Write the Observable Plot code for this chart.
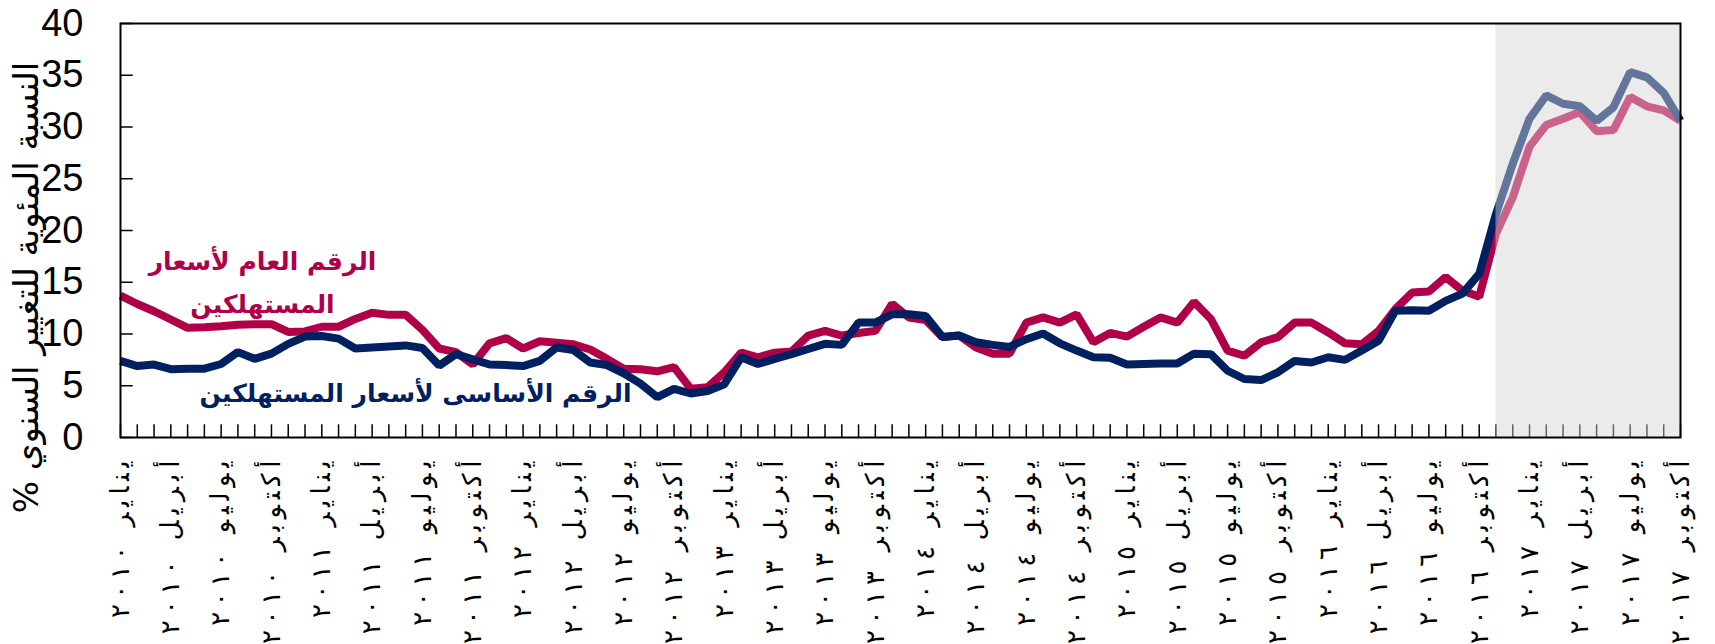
<!DOCTYPE html>
<html><head><meta charset="utf-8">
<script src="https://cdn.jsdelivr.net/npm/d3@7"></script>
<script src="https://cdn.jsdelivr.net/npm/@observablehq/plot@0.6"></script>
<style>
body{margin:0;background:#fff} svg{display:block}
</style>
</head><body><div id="chart"></div>
<script>
// ---- data ----
const monthNames = ["يناير","فبراير","مارس","أبريل","مايو","يونيو","يوليو","أغسطس","سبتمبر","أكتوبر","نوفمبر","ديسمبر"];
const years = ["٢٠١٠","٢٠١١","٢٠١٢","٢٠١٣","٢٠١٤","٢٠١٥","٢٠١٦","٢٠١٧"];
// headline CPI, annual % change (Jan 2010 .. Oct 2017)
const headline = [
  13.7,12.9,12.2,11.4,10.6,10.65,10.75,10.9,10.95,10.95,10.2,10.25,
  10.7,10.7,11.45,12.05,11.85,11.85,10.4,8.6,8.25,7.05,9.1,9.6,
  8.6,9.3,9.15,9.0,8.5,7.6,6.65,6.6,6.4,6.8,4.7,4.85,
  6.3,8.2,7.75,8.2,8.3,9.85,10.3,9.85,10.1,10.3,12.9,11.6,
  11.35,9.7,9.85,8.7,8.1,8.1,11.1,11.6,11.1,11.9,9.2,10.1,
  9.75,10.7,11.6,11.1,13.1,11.45,8.4,7.9,9.2,9.7,11.1,11.1,
  10.15,9.1,9.0,10.3,12.4,14.0,14.1,15.5,14.2,13.6,19.7,23.2,
  28.1,30.2,30.8,31.45,29.6,29.7,32.9,32.0,31.6,30.6
];
// core CPI, annual % change
const core = [
  7.4,6.9,7.05,6.6,6.65,6.65,7.1,8.25,7.6,8.1,9.05,9.75,
  9.8,9.55,8.6,8.7,8.8,8.9,8.65,6.95,8.05,7.55,7.05,7.0,
  6.9,7.4,8.7,8.45,7.25,7.0,6.2,5.2,3.9,4.7,4.25,4.5,
  5.15,7.75,7.1,7.6,8.05,8.55,9.05,8.95,11.1,11.1,11.9,11.9,
  11.75,9.7,9.85,9.2,8.95,8.75,9.5,10.05,9.1,8.4,7.75,7.7,
  7.05,7.1,7.15,7.15,8.1,8.05,6.45,5.65,5.55,6.3,7.4,7.25,
  7.75,7.5,8.4,9.35,12.25,12.3,12.25,13.2,13.9,15.8,21.6,26.45,
  30.8,33.05,32.25,32.0,30.6,31.9,35.3,34.8,33.3,30.6
];
const yTicks = [0,5,10,15,20,25,30,35,40];
const shadedFrom = "نوفمبر ٢٠١٦";
const yLabel = "% النسبة المئوية للتغيير السنوي";
const headlineLabel = "الرقم العام لأسعار\nالمستهلكين";
const coreLabel = "الرقم الأساسى لأسعار المستهلكين";

// ---- derived ----
const months = years.flatMap(y => monthNames.map(m => `${m} ${y}`)).slice(0, headline.length);
const rows = months.map((m, i) => ({i, month: m, headline: headline[i], core: core[i]}));
const last = months.length - 1;
const shade = [{x1: months.indexOf(shadedFrom), x2: last}];
const labelIdx = d3.range(0, months.length, 3);

const W = 1715, H = 644, mL = 120, mR = 35, mT = 23, mB = 207;
const innerW = W - mL - mR, innerH = H - mT - mB, tickLen = 12.7;
const red = "#B00048", navy = "#002060", grey = "#EBEBEB";

const chart = Plot.plot({
  width: W, height: H,
  marginLeft: mL, marginRight: mR, marginTop: mT, marginBottom: mB,
  style: {fontFamily: "'DejaVu Sans', sans-serif", background: "white", color: "#000"},
  x: {type: "linear", domain: [0, last]},
  y: {domain: [0, 40]},
  marks: [
    Plot.rect(shade, {x1: "x1", x2: "x2", fill: grey}),
    Plot.tickY(yTicks, {y: d => d, stroke: "#000", strokeWidth: 1.5, insetRight: innerW - tickLen}),
    Plot.tickX(d3.range(months.length), {x: d => d, stroke: "#000", strokeWidth: 1.5, insetTop: innerH - tickLen}),
    Plot.line(rows, {x: "i", y: "headline", stroke: red, strokeWidth: 8, strokeLinejoin: "miter", strokeLinecap: "butt"}),
    Plot.line(rows, {x: "i", y: "core", stroke: navy, strokeWidth: 8, strokeLinejoin: "miter", strokeLinecap: "butt"}),
    Plot.rect(shade, {x1: "x1", x2: "x2", fill: grey, fillOpacity: 0.42}),
    Plot.frame({stroke: "#000", strokeWidth: 2}),
    Plot.axisY({ticks: yTicks, tickSize: 0, tickPadding: 37, fontSize: 38, fontFamily: "'Liberation Sans', Arial, sans-serif", label: null}),
    Plot.axisX({ticks: labelIdx, tickFormat: i => months[i], tickRotate: -90, tickSize: 0, tickPadding: 23, fontSize: 26, textAnchor: "end", label: null}),
    Plot.text([yLabel], {frameAnchor: "left", dx: -93, dy: 57, rotate: -90, fontSize: 34, textAnchor: "middle"}),
    Plot.text([headlineLabel], {frameAnchor: "top-left", dx: 142, dy: 215, fill: red, fontWeight: "bold", fontSize: 25, lineHeight: 1.75, textAnchor: "middle"}),
    Plot.text([coreLabel], {frameAnchor: "top-left", dx: 295, dy: 361, fill: navy, fontWeight: "bold", fontSize: 25, textAnchor: "middle"})
  ]
});
document.getElementById("chart").appendChild(chart);
// spread the month/year tick labels the way the original's spaced-out lettering does
chart.querySelectorAll('g[aria-label="x-axis tick label"] text').forEach(t => {
  const L = t.getComputedTextLength();
  t.setAttribute("textLength", (L * 1.45).toFixed(1));
  t.setAttribute("lengthAdjust", "spacing");
});
</script>
</body></html>
